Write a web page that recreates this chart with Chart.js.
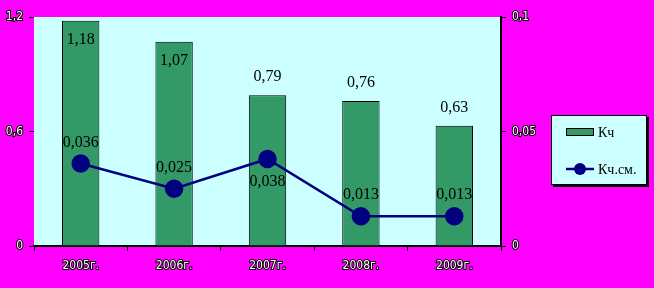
<!DOCTYPE html>
<html>
<head>
<meta charset="utf-8">
<script src="https://cdn.jsdelivr.net/npm/chart.js@4/dist/chart.umd.min.js"></script>
<style>
  html, body { margin: 0; padding: 0; background: #FF00FF; }
  #wrap { width: 654px; height: 288px; }
</style>
</head>
<body>
<div id="wrap"><canvas id="myChart" width="654" height="288"></canvas></div>
<script>
// DATA
var years = ['2005г.', '2006г.', '2007г.', '2008г.', '2009г.'];
var kch = [1.18, 1.07, 0.79, 0.76, 0.63];
var kchSm = [0.036, 0.025, 0.038, 0.013, 0.013];
var kchSmLabelPos = ['above', 'above', 'below', 'above', 'above'];
var leftTicks = [0, 0.6, 1.2];
var leftTickLabels = ['0', '0,6', '1,2'];
var rightTicks = [0, 0.05, 0.1];
var rightTickLabels = ['0', '0,05', '0,1'];

function comma(v) {
    return String(v).replace('.', ',');
}

// plot area background
var plotBg = {
    id: 'plotBg',
    beforeDraw: function (chart) {
        var a = chart.chartArea;
        var c = chart.ctx;
        c.save();
        c.fillStyle = '#CCFFFF';
        c.fillRect(a.left, a.top, a.right - a.left, a.bottom - a.top);
        c.restore();
    }
};

// value labels
var valueLabels = {
    id: 'valueLabels',
    afterDatasetsDraw: function (chart) {
        var c = chart.ctx;
        c.save();
        c.font = '16px "Liberation Serif", "Times New Roman", serif';
        c.fillStyle = '#000';
        c.textAlign = 'center';
        c.textBaseline = 'middle';
        chart.getDatasetMeta(0).data.forEach(function (bar, i) {
            var y = kch[i] > 1 ? bar.y + 19 : bar.y - 18;
            c.fillText(comma(kch[i]), bar.x, y);
        });
        chart.getDatasetMeta(1).data.forEach(function (pt, i) {
            var y = kchSmLabelPos[i] == 'below' ? pt.y + 23 : pt.y - 21;
            c.fillText(comma(kchSm[i]), pt.x, y);
        });
        c.restore();
    }
};

// legend box
var legendBox = {
    id: 'legendBox',
    afterDraw: function (chart) {
        var c = chart.ctx;
        c.save();
        c.fillStyle = '#000';
        c.fillRect(553, 117, 96, 70);
        c.fillStyle = '#CCFFFF';
        c.fillRect(551, 115, 96, 70);
        c.strokeStyle = '#000';
        c.lineWidth = 1;
        c.strokeRect(551.5, 115.5, 95, 69);

        c.fillStyle = '#339966';
        c.fillRect(566, 128, 28, 8);
        c.strokeRect(566.5, 128.5, 27, 7);

        c.strokeStyle = '#000080';
        c.lineWidth = 2.5;
        c.beginPath();
        c.moveTo(566, 169);
        c.lineTo(594, 169);
        c.stroke();
        c.fillStyle = '#000080';
        c.beginPath();
        c.arc(580, 169, 6, 0, Math.PI * 2);
        c.fill();

        c.fillStyle = '#000';
        c.font = '14px "Liberation Serif", "Times New Roman", serif';
        c.textBaseline = 'middle';
        c.fillText('Кч', 598, 133);
        c.fillText('Кч.см.', 598, 170);
        c.restore();
    }
};

var tickFont = { family: '"Liberation Sans Narrow", "Arial Narrow", "DejaVu Sans Condensed", sans-serif', size: 12 };

const ctx = document.getElementById('myChart').getContext('2d');
const myChart = new Chart(ctx, {
    type: 'bar',
    data: {
        labels: years,
        datasets: [{
            label: 'Кч',
            data: kch,
            backgroundColor: '#339966',
            borderColor: '#000',
            borderWidth: 1,
            barPercentage: 0.4,
            categoryPercentage: 1,
            yAxisID: 'y',
            order: 2
        }, {
            type: 'line',
            label: 'Кч.см.',
            data: kchSm,
            borderColor: '#000080',
            backgroundColor: '#000080',
            borderWidth: 2.5,
            pointRadius: 8,
            pointHoverRadius: 8,
            pointStyle: 'circle',
            yAxisID: 'y1',
            order: 1
        }]
    },
    options: {
        responsive: false,
        animation: false,
        events: [],
        layout: { padding: { top: 17, right: 113, bottom: 0, left: 0 } },
        plugins: {
            legend: { display: false },
            tooltip: { enabled: false }
        },
        scales: {
            x: {
                offset: true,
                grid: { display: true, offset: true, drawOnChartArea: false, color: '#000', tickLength: 5 },
                border: { display: true, color: '#000', width: 2 },
                ticks: {
                    color: '#fff', font: tickFont, textStrokeColor: '#000', textStrokeWidth: 2,
                    padding: 8, maxRotation: 0
                },
                afterFit: function (s) { s.height = 42; }
            },
            y: {
                position: 'left',
                min: 0, max: 1.2,
                afterBuildTicks: function (s) { s.ticks = leftTicks.map(function (v) { return { value: v }; }); },
                grid: { display: true, drawOnChartArea: false, color: '#000', tickLength: 5 },
                border: { display: false },
                ticks: {
                    color: '#fff', font: tickFont, textStrokeColor: '#000', textStrokeWidth: 2,
                    padding: 6,
                    callback: function (v, i) { return leftTickLabels[i]; }
                },
                afterFit: function (s) { s.width = 34; }
            },
            y1: {
                position: 'right',
                min: 0, max: 0.1,
                afterBuildTicks: function (s) { s.ticks = rightTicks.map(function (v) { return { value: v }; }); },
                grid: { display: true, drawOnChartArea: false, color: '#000', tickLength: 5 },
                border: { display: true, color: '#000', width: 2 },
                ticks: {
                    color: '#fff', font: tickFont, textStrokeColor: '#000', textStrokeWidth: 2,
                    padding: 6,
                    callback: function (v, i) { return rightTickLabels[i]; }
                },
                afterFit: function (s) { s.width = 40; }
            }
        }
    },
    plugins: [plotBg, valueLabels, legendBox]
});
</script>
</body>
</html>
